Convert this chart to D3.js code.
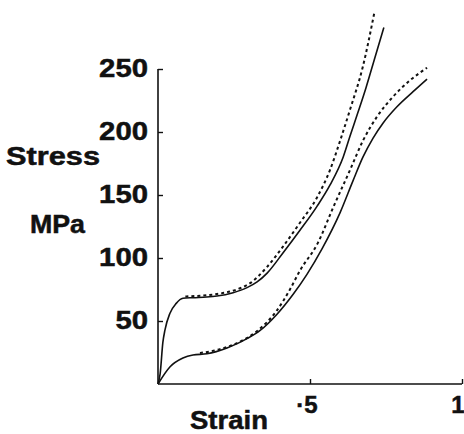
<!DOCTYPE html>
<html>
<head>
<meta charset="utf-8">
<script src="https://cdn.jsdelivr.net/npm/d3@7"></script>
<style>
body { margin: 0; background: #fff; }
text { font-family: "Liberation Sans", Arial, sans-serif; font-weight: bold; fill: #111; stroke: #111; stroke-width: 0.5; }
</style>
</head>
<body>
<div id="mainvis"></div>
<script>
// stress-strain curves, strain (fraction) vs stress (MPa)
var upperSolid = [[0,0],[0.007,8],[0.016,33],[0.023,43],[0.039,56],[0.06,64],[0.082,68],[0.115,68.5],[0.16,69],[0.194,69.8],[0.247,72.5],[0.293,76.5],[0.326,81],[0.359,88],[0.411,104],[0.467,122],[0.523,141],[0.566,158],[0.609,180],[0.632,197],[0.657,215],[0.684,235],[0.711,257],[0.743,283]];
var upperDash = [[0.09,69.5],[0.194,71.4],[0.27,76],[0.303,80],[0.359,93],[0.411,109],[0.467,128],[0.523,148],[0.566,170],[0.599,193],[0.632,218],[0.674,252],[0.711,294]];
var lowerSolid = [[0,0],[0.039,13.5],[0.082,20.6],[0.115,23],[0.161,24],[0.227,28.6],[0.293,36],[0.336,42.5],[0.39,55],[0.444,71],[0.49,87],[0.539,107],[0.599,136],[0.641,161],[0.674,180],[0.707,195],[0.740,207],[0.786,220],[0.839,232],[0.885,242]];
var lowerDash = [[0.138,24.6],[0.194,27],[0.26,32.5],[0.326,42],[0.39,58],[0.434,75],[0.467,90],[0.526,112],[0.576,140],[0.632,170],[0.674,193],[0.720,212],[0.773,228],[0.829,241],[0.885,251]];

var yTicks = [50,100,150,200,250];
var xTicks = [0.5,1];
var xTickLabels = ["\u00b75","1"];

var svg = d3.select("#mainvis").append("svg")
  .attr("width", 464)
  .attr("height", 434);

var x = d3.scaleLinear().domain([0,1]).range([158,462]);
var y = d3.scaleLinear().domain([0,250]).range([384,69]);

var line = d3.line()
  .x(function(d) { return x(d[0]); })
  .y(function(d) { return y(d[1]); })
  .curve(d3.curveMonotoneX);

// axes: ticks point inward, labels drawn separately
var yAxis = d3.axisRight(y).tickValues(yTicks).tickSize(5).tickFormat("");
svg.append("g").attr("transform","translate(" + x(0) + ",0)").call(yAxis)
  .call(function(g) { g.select(".domain").attr("d", "M0," + y(0) + "V" + y(250)); });

var xAxis = d3.axisTop(x).tickValues(xTicks).tickSize(5).tickFormat("");
svg.append("g").attr("transform","translate(0," + y(0) + ")").call(xAxis)
  .call(function(g) { g.select(".domain").attr("d", "M" + x(0) + ",0H" + x(1)); });

svg.selectAll(".domain").attr("stroke","#111").attr("stroke-width",1.6);
svg.selectAll(".tick line").attr("stroke","#111").attr("stroke-width",1.4);

svg.selectAll(".ylab")
  .data(yTicks)
  .enter().append("text")
  .attr("class","ylab")
  .attr("x", 148)
  .attr("y", function(d) { return y(d) + 8; })
  .attr("text-anchor","end")
  .attr("font-size","26px")
  .attr("textLength", function(d) { return String(d).length * 16.3; })
  .attr("lengthAdjust","spacingAndGlyphs")
  .text(function(d) { return d; });

svg.selectAll(".xlab")
  .data(xTicks)
  .enter().append("text")
  .attr("class","xlab")
  .attr("x", function(d) { return x(d) - (d == 1 ? 4 : 3); })
  .attr("y", 413)
  .attr("text-anchor","middle")
  .attr("font-size","24px")
  .text(function(d, i) { return xTickLabels[i]; });

svg.append("text").attr("x",6).attr("y",165).attr("font-size","25px")
  .attr("textLength",94).attr("lengthAdjust","spacingAndGlyphs").text("Stress");
svg.append("text").attr("x",30).attr("y",233).attr("font-size","25px")
  .attr("textLength",55).attr("lengthAdjust","spacingAndGlyphs").text("MPa");
svg.append("text").attr("x",190).attr("y",429).attr("font-size","25px")
  .attr("textLength",78).attr("lengthAdjust","spacingAndGlyphs").text("Strain");

var curves = [
  {pts: upperSolid, dash: null},
  {pts: upperDash, dash: "3,3"},
  {pts: lowerSolid, dash: null},
  {pts: lowerDash, dash: "3,3"}
];

svg.selectAll(".curve")
  .data(curves)
  .enter().append("path")
  .attr("class","curve")
  .attr("d", function(d) { return line(d.pts); })
  .attr("fill","none")
  .attr("stroke","#111")
  .attr("stroke-width", function(d) { return d.dash ? 2 : 1.6; })
  .attr("stroke-dasharray", function(d) { return d.dash; });
</script>
</body>
</html>
